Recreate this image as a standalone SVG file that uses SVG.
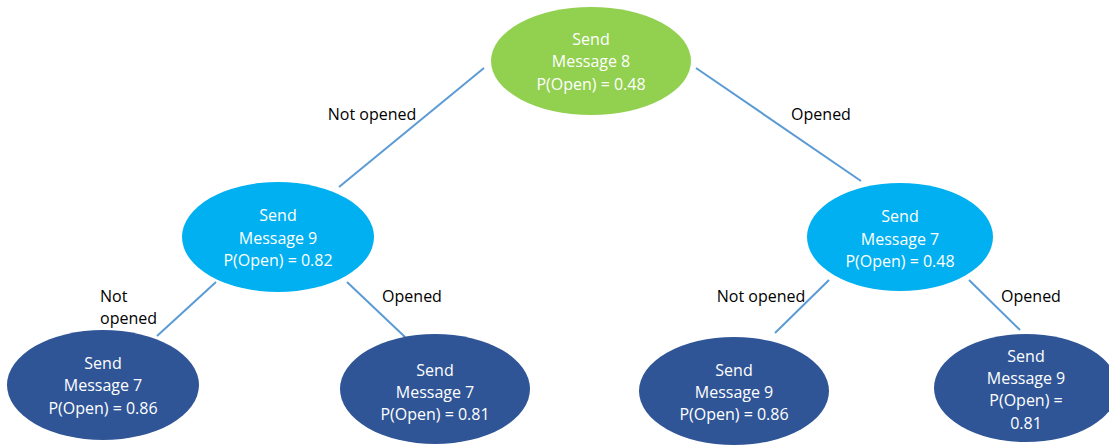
<svg xmlns="http://www.w3.org/2000/svg" width="1109" height="445" viewBox="0 0 1109 445">
<style>
.n text{font-family:"Open Sans","Liberation Sans",sans-serif;font-size:16px;fill:#ffffff;text-anchor:middle}
.lbl{font-family:"Open Sans","Liberation Sans",sans-serif;font-size:16px;fill:#000000}
.c line{stroke:#5B9BD5;stroke-width:2}
.g{fill:#92D050}.b{fill:#00B0F0}.d{fill:#2F5597}
</style>
<rect width="1109" height="445" fill="#ffffff"/>
<g id="connectors" class="c">
<line x1="484" y1="68" x2="339" y2="187"/>
<line x1="696" y1="68" x2="861" y2="181"/>
<line x1="216" y1="282" x2="157" y2="336"/>
<line x1="347" y1="282" x2="405" y2="337"/>
<line x1="829" y1="280" x2="775" y2="333"/>
<line x1="969" y1="280" x2="1020" y2="330"/>
</g>
<g id="labels">
<text class="lbl" x="372" y="120" text-anchor="middle">Not opened</text>
<text class="lbl" x="821" y="120" text-anchor="middle">Opened</text>
<text class="lbl" x="100" y="302">Not</text>
<text class="lbl" x="100" y="324">opened</text>
<text class="lbl" x="412" y="302" text-anchor="middle">Opened</text>
<text class="lbl" x="761" y="302" text-anchor="middle">Not opened</text>
<text class="lbl" x="1031" y="302" text-anchor="middle">Opened</text>
</g>
<g id="n8" class="n">
<ellipse class="g" cx="591" cy="61" rx="100" ry="54"/>
<text x="591" y="45">Send</text><text x="591" y="67">Message 8</text><text x="591" y="90">P(Open) = 0.48</text>
</g>
<g id="n9" class="n">
<ellipse class="b" cx="278" cy="237" rx="96" ry="55"/>
<text x="278" y="221">Send</text><text x="278" y="244">Message 9</text><text x="278" y="266">P(Open) = 0.82</text>
</g>
<g id="n7" class="n">
<ellipse class="b" cx="900" cy="237" rx="93" ry="54"/>
<text x="900" y="222">Send</text><text x="900" y="245">Message 7</text><text x="900" y="267">P(Open) = 0.48</text>
</g>
<g id="n7a" class="n">
<ellipse class="d" cx="103" cy="385" rx="96" ry="55"/>
<text x="103" y="369">Send</text><text x="103" y="391">Message 7</text><text x="103" y="414">P(Open) = 0.86</text>
</g>
<g id="n7b" class="n">
<ellipse class="d" cx="435" cy="389" rx="95" ry="55"/>
<text x="435" y="376">Send</text><text x="435" y="398">Message 7</text><text x="435" y="420">P(Open) = 0.81</text>
</g>
<g id="n9a" class="n">
<ellipse class="d" cx="734" cy="391" rx="95" ry="54"/>
<text x="734" y="376">Send</text><text x="734" y="398">Message 9</text><text x="734" y="420">P(Open) = 0.86</text>
</g>
<g id="n9b" class="n">
<ellipse class="d" cx="1026" cy="388" rx="92" ry="54"/>
<text x="1026" y="362">Send</text><text x="1026" y="384">Message 9</text><text x="1026" y="406">P(Open) =</text><text x="1026" y="429">0.81</text>
</g>
</svg>
